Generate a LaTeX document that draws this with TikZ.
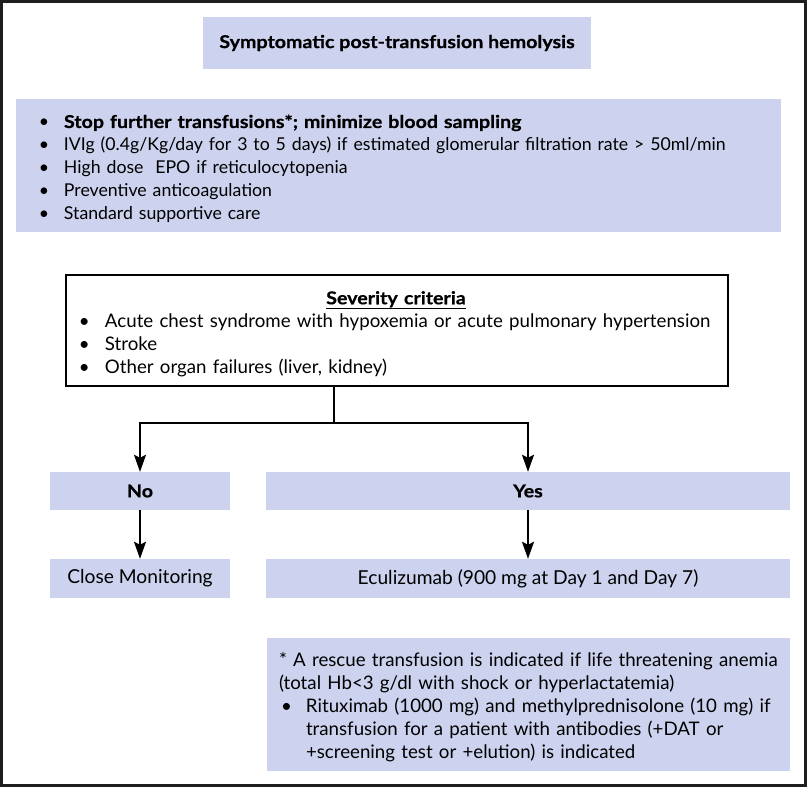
\documentclass[tikz,border=0pt]{standalone}
\usepackage{fontspec}
\setmainfont{Lato}[BoldFeatures={FakeStretch=1.11,FakeBold=0.6}]
\usetikzlibrary{arrows.meta}
\definecolor{boxfill}{RGB}{205,210,238}
\definecolor{framecol}{RGB}{30,30,30}
\newcommand{\bul}[1]{\makebox[#1][l]{\textbullet}}
\newcommand{\topstrut}{\rule{0pt}{20pt}}
\tikzset{
  fillbox/.style={fill=boxfill, draw=none, inner sep=0pt, align=center},
  listbox/.style={fillbox, align=left},
  conn/.style={line width=2pt, black},
  arr/.style={conn, -{Stealth[length=17pt,width=12pt,inset=3pt]}},
  fsA/.style={font=\fontsize{17.7}{23}\selectfont},
  fsB/.style={font=\fontsize{18.7}{23}\selectfont},
  fsC/.style={font=\fontsize{19.2}{23}\selectfont}
}
\begin{document}
\begin{tikzpicture}[x=1pt,y=-1pt]
\useasboundingbox (0,0) rectangle (807,787);
\draw[line width=3pt, framecol] (1.5,1.5) rectangle (805.5,785.5);

\node[fillbox, fsA, minimum width=388pt, minimum height=52pt] (title) at (397,43)
  {\textbf{Symptomatic post-transfusion hemolysis}};

\node[listbox, fsA, minimum width=765pt, minimum height=133pt, text width=765pt] (care) at (398.5,165.5)
  {\topstrut\hspace*{23pt}\bul{25pt}\mbox{\textbf{Stop further transfusions*; minimize blood sampling}}\\
   \hspace*{23pt}\bul{25pt}\mbox{IVIg (0.4g/Kg/day for 3 to 5 days) if estimated glomerular filtration rate > 50ml/min}\\
   \hspace*{23pt}\bul{25pt}\mbox{High dose\ \ EPO if reticulocytopenia}\\
   \hspace*{23pt}\bul{25pt}\mbox{Preventive anticoagulation}\\
   \hspace*{23pt}\bul{25pt}\mbox{Standard supportive care}};

\node[draw=black, line width=2pt, fill=white, fsB, align=left, minimum width=662pt, minimum height=111pt, text width=662pt, inner sep=0pt] (sev) at (397,330.5)
  {\topstrut\makebox[660pt][c]{\fontsize{17.7}{23}\selectfont\textbf{\underline{Severity criteria}}}\\
   \hspace*{13pt}\bul{26pt}\mbox{Acute chest syndrome with hypoxemia or acute pulmonary hypertension}\\
   \hspace*{13pt}\bul{26pt}\mbox{Stroke}\\
   \hspace*{13pt}\bul{26pt}\mbox{Other organ failures (liver, kidney)}};

\node[fillbox, fsA, minimum width=180pt, minimum height=38pt] (no) at (140,491) {\textbf{No}};
\node[fillbox, fsA, minimum width=524pt, minimum height=38pt] (yes) at (528,491) {\textbf{Yes}};
\node[fillbox, fsC, minimum width=180pt, minimum height=39pt] (close) at (140,578.5) {Close Monitoring};
\node[fillbox, fsC, minimum width=524pt, minimum height=39pt] (ecu) at (528,578.5) {Eculizumab (900 mg at Day 1 and Day 7)};

\node[listbox, fsB, minimum width=523pt, minimum height=133pt, text width=523pt] (note) at (528.5,704.5)
  {\topstrut\hspace*{12pt}\mbox{* A rescue transfusion is indicated if life threatening anemia}\\
   \hspace*{12pt}\mbox{(total Hb<3 g/dl with shock or hyperlactatemia)}\\
   \hspace*{14pt}\bul{25pt}\mbox{Rituximab (1000 mg) and methylprednisolone (10 mg) if}\\
   \hspace*{39pt}\mbox{transfusion for a patient with antibodies (+DAT or}\\
   \hspace*{39pt}\mbox{+screening test or +elution) is indicated}};

\coordinate (split) at (334,423);
\draw[conn] (sev.south -| split) -- (split);
\draw[arr] (split) -| (no.north);
\draw[arr] (split) -| (yes.north);
\draw[arr] (no.south) -- (close.north);
\draw[arr] (yes.south) -- (ecu.north);
\end{tikzpicture}
\end{document}
